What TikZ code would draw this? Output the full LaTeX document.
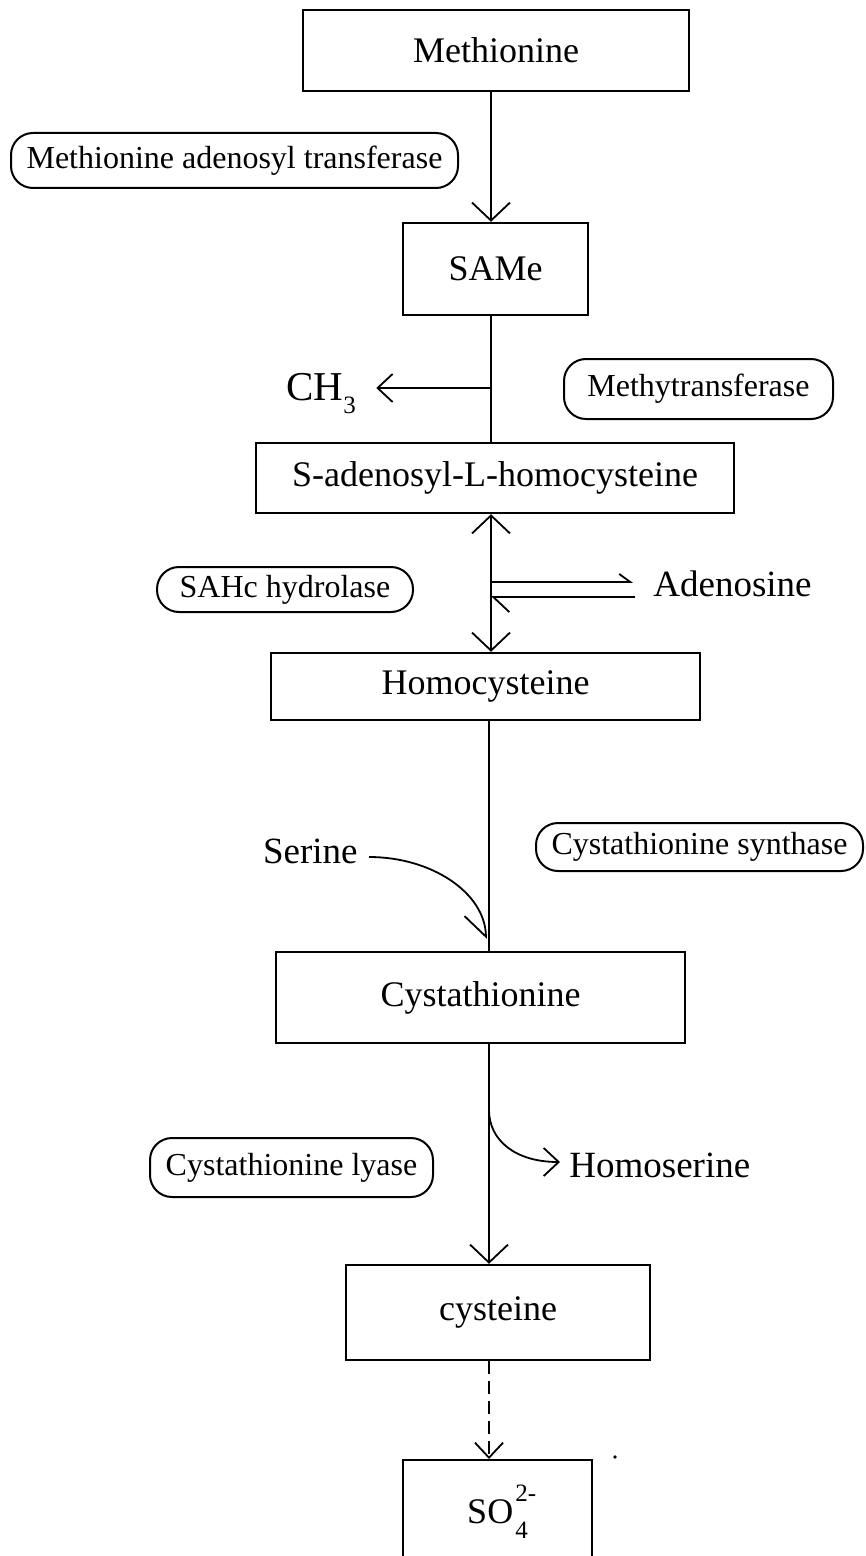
\documentclass[tikz,border=0pt]{standalone}
\usepackage{fontspec}
\setmainfont{Liberation Serif}
\usetikzlibrary{arrows.meta,calc}

\tikzset{
  box/.style={draw, line width=1.2pt, inner sep=0pt, font=\fontsize{18}{21}\selectfont},
  pill/.style={draw, line width=1pt, rounded corners=11pt, inner sep=0pt, font=\fontsize{16}{19}\selectfont},
  lbl/.style={inner sep=0pt, font=\fontsize{18.5}{21}\selectfont},
  flow/.style={line width=0.9pt},
  bighead/.tip={Straight Barb[length=9pt,width=19pt]},
  smallhead/.tip={Straight Barb[length=7.5pt,width=14pt]},
  upharp/.tip={Straight Barb[left,length=5.5pt,width=8pt]},
  lowharp/.tip={Straight Barb[left,length=8pt,width=15pt]},
  serharp/.tip={Straight Barb[right,length=10.5pt,width=21pt]},
}
\newcommand{\subsz}{\fontsize{12.5}{13}\selectfont}

\begin{document}
\begin{tikzpicture}[x=0.5pt,y=-0.5pt]
  \useasboundingbox (0,0) rectangle (866,1556);
  \clip (0,0) rectangle (866,1556);

  % spine of the pathway
  \coordinate (spine) at (491,0);
  \coordinate (spineB) at (489,0);

  % metabolites
  \node[box, minimum width=193pt, minimum height=40.5pt] (Methionine) at (496,50.5) {Methionine};
  \node[box, minimum width=92.5pt, minimum height=46pt] (SAMe) at (495.5,269) {SAMe};
  \node[box, minimum width=239pt, minimum height=35pt] (SAH) at (495,478) {S-adenosyl-L-homocysteine};
  \node[box, minimum width=214.5pt, minimum height=33.5pt] (Homocysteine) at (485.5,686.5) {Homocysteine};
  \node[box, minimum width=204.5pt, minimum height=45.5pt] (Cystathionine) at (480.5,997.5) {Cystathionine};
  \node[box, minimum width=152pt, minimum height=47.5pt] (cysteine) at (498,1312.5) {cysteine};
  \node[box, minimum width=94.5pt, minimum height=52pt, anchor=north] (SO4) at (497.5,1459)
    {SO\kern1pt\rlap{\raisebox{11pt}{\subsz 2-}}\raisebox{-7.5pt}{\subsz 4}};

  % enzymes
  \node[pill, minimum width=223.5pt, minimum height=27.5pt] (MAT) at (234.5,160.5) {Methionine adenosyl transferase};
  \node[pill, minimum width=134.5pt, minimum height=30pt] (MT) at (698.5,389) {Methytransferase};
  \node[pill, minimum width=128pt, minimum height=22.5pt] (SAHH) at (285,589.5) {SAHc hydrolase};
  \node[pill, minimum width=163.5pt, minimum height=24pt] (CBS) at (699.5,847) {Cystathionine synthase};
  \node[pill, minimum width=141.5pt, minimum height=29.5pt] (CGL) at (291.5,1167.5) {Cystathionine lyase};

  % side products and substrates
  \node[inner sep=0pt, font=\fontsize{20.5}{22}\selectfont, anchor=base west] (CH3) at (286,400)
    {CH\raisebox{-6.5pt}{\subsz 3}};
  \node[lbl, anchor=base west] (Adenosine) at (653,596) {Adenosine};
  \node[lbl, anchor=base east] (Serine) at (358,863) {Serine};
  \node[lbl, anchor=base west] (Homoserine) at (569,1177) {Homoserine};

  % main pathway
  \draw[flow, -bighead] (Methionine.south -| spine) -- (SAMe.north -| spine);
  \draw[flow] (SAMe.south -| spine) -- (SAH.north -| spine);
  \draw[flow, -smallhead] (spine |- 0,388) -- ([xshift=10pt]CH3.east |- 0,388);
  \draw[flow, bighead-bighead] (SAH.south -| spine) -- (Homocysteine.north -| spine);
  \draw[flow, -upharp] (spine |- 0,582) -- ([xshift=-10pt]Adenosine.west |- 0,582);
  \draw[flow, -lowharp] ([xshift=-9pt]Adenosine.west |- 0,597) -- (spine |- 0,597);
  \draw[flow] (Homocysteine.south -| spineB) -- (Cystathionine.north -| spineB);
  \draw[flow, -serharp] ([xshift=5.5pt]Serine.east |- 0,857)
    .. controls (432,857) and (485,893) .. ([xshift=-1.5pt,yshift=6pt]Cystathionine.north -| spineB);
  \draw[flow, -bighead] (Cystathionine.south -| spineB) -- (cysteine.north -| spineB);
  \draw[flow, -smallhead] (spineB |- 0,1110)
    .. controls (489,1140) and (515,1162) .. ([xshift=-4.5pt]Homoserine.west |- 0,1162);
  \draw[flow, dash pattern=on 6.5pt off 3.5pt, -smallhead] (cysteine.south -| spineB) -- (SO4.north -| spineB);

  % speck beside the sulfate box
  \fill (615,1457) circle (0.9pt);
\end{tikzpicture}
\end{document}
